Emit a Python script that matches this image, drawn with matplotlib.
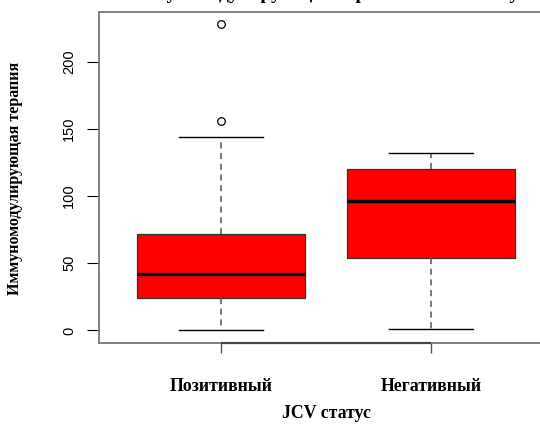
import matplotlib
matplotlib.use("Agg")
import matplotlib.pyplot as plt

# Data
categories = ["Позитивный", "Негативный"]
whisker_low = [0, 1]
q1 = [24, 54]
median = [42, 96]
q3 = [72, 120]
whisker_high = [144, 132]
outliers = [[156, 228], []]
yticks = [0, 50, 100, 150, 200]

title_text = "Иммуномодулирующая терапия и JCV статус"
xlabel_text = "JCV статус"
ylabel_text = "Иммуномодулирующая терапия"

W, H = 540, 425
fig = plt.figure(figsize=(W / 100, H / 100), dpi=100)
left, right, top, bottom = 99, 553, 11.7, 342.7
ax = fig.add_axes([left / W, (H - bottom) / H, (right - left) / W, (bottom - top) / H])

stats = []
for i in range(len(categories)):
    stats.append(dict(whislo=whisker_low[i], q1=q1[i], med=median[i], q3=q3[i],
                      whishi=whisker_high[i], fliers=outliers[i], label=categories[i]))

ax.bxp(stats, positions=[1, 2], widths=0.8, patch_artist=True, showfliers=True,
       boxprops=dict(facecolor="#FF0000", edgecolor="#333333", linewidth=0.9),
       medianprops=dict(color="black", linewidth=2.4, solid_capstyle="butt"),
       whiskerprops=dict(color="#555555", linewidth=1.1, linestyle=(0, (4, 3))),
       capprops=dict(color="black", linewidth=1.0),
       capwidths=0.4,
       flierprops=dict(marker="o", markersize=5.5, markerfacecolor="white",
                       markeredgecolor="black", markeredgewidth=0.9))

ax.set_xlim(0.42, 2.58)
ax.set_ylim(-9.12, 237.12)

for s in ax.spines.values():
    s.set_color("#777777")
    s.set_linewidth(1.3)

ax.set_yticks(yticks)
ax.set_yticklabels([str(v) for v in yticks], rotation=90, va="center",
                   fontfamily="Liberation Sans", fontsize=10.5)
ax.tick_params(axis="y", length=8.5, width=0.8, color="black", pad=8)

ax.set_xticks([1, 2])
ax.set_xticklabels(categories, fontfamily="Liberation Serif", fontweight="bold", fontsize=12.8)
ax.tick_params(axis="x", length=7.5, width=1.0, color="#555555", pad=18)
ax.hlines(ax.get_ylim()[0], 1, 2, color="#444444", linewidth=1.6, clip_on=False, zorder=5)

ax.set_xlabel(xlabel_text, fontfamily="Liberation Serif", fontweight="bold", fontsize=12.8,
              va="center")
ax.xaxis.set_label_coords(0.5, (bottom - 413) / (bottom - top))
ax.set_ylabel(ylabel_text, fontfamily="Liberation Serif", fontweight="bold", fontsize=11.5,
              va="center")
ax.yaxis.set_label_coords((15 - left) / (right - left), 0.495)

fig.text((left + right) / 2 / W, 1 + 1.0 / H, title_text, ha="center", va="baseline",
         fontfamily="Liberation Serif", fontweight="bold", fontsize=14)

fig.savefig("out.png", dpi=100)
